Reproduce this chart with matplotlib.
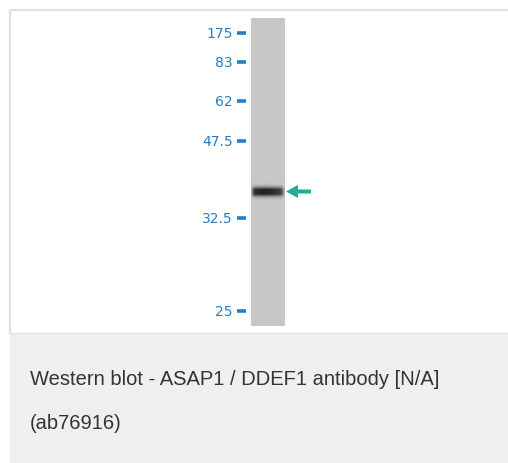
import numpy as np
import matplotlib
matplotlib.use("Agg")
import matplotlib.pyplot as plt
from matplotlib.patches import Rectangle, Polygon

# Data
marker_labels = ["175", "83", "62", "47.5", "32.5", "25"]
marker_migration = [34, 63, 102, 142, 219, 312]  # migration position (px from top)
band_migration = 192.5
band_intensity = 0.95
caption_line1 = "Western blot - ASAP1 / DDEF1 antibody [N/A]"
caption_line2 = "(ab76916)"

W, H = 508, 464
fig = plt.figure(figsize=(W / 100, H / 100), dpi=100)
ax = fig.add_axes([0, 0, 1, 1])
ax.set_xlim(0, W)
ax.set_ylim(H, 0)
ax.axis("off")

fig.patch.set_facecolor("white")
# white panel with border
ax.add_patch(Rectangle((10, 11), W + 5, 324, facecolor="white", edgecolor="#e0e0e0", lw=1.6))
# caption panel
ax.add_patch(Rectangle((10, 335), W, H - 335, facecolor="#eef0ef", edgecolor="none"))

# lane as image with band
lane_x0, lane_x1, lane_y0, lane_y1 = 251, 285, 19, 327
ys = np.arange(lane_y0, lane_y1, 0.5)
xs = np.linspace(0, 1, 68)
bg = 0.785
prof_y = np.exp(-0.5 * ((ys - band_migration) / 3.0) ** 2)
prof_y = np.clip(prof_y * 1.35, 0, 1)
prof_x = 0.8 + 0.2 * np.exp(-0.5 * ((xs - 0.4) / 0.3) ** 2)
prof_x = prof_x * (1 / (1 + np.exp(-(xs - 0.04) * 50))) * (1 / (1 + np.exp((xs - 0.95) * 35)))
dark = band_intensity * np.outer(prof_y, prof_x)
img = bg * (1 - dark) + 0.1 * dark
ax.imshow(img, cmap="gray", vmin=0, vmax=1, extent=(lane_x0, lane_x1, lane_y1, lane_y0),
          aspect="auto", interpolation="bilinear", zorder=2)

# markers
label_color = "#2a7dbd"
for lab, y in zip(marker_labels, marker_migration):
    ax.plot([237, 246], [y, y], color=label_color, lw=2.6, solid_capstyle="butt", zorder=3)
    ax.text(233, y, lab, ha="right", va="center", fontsize=10, color=label_color,
            family="DejaVu Sans", zorder=3)

# arrow (tip at lane edge, pointing left)
arrow_color = "#1fae9c"
yb = band_migration
ax.add_patch(Polygon([(286, yb), (298, yb - 6.5), (298, yb - 2), (311, yb - 2),
                      (311, yb + 2), (298, yb + 2), (298, yb + 6.5)],
                     closed=True, facecolor=arrow_color, edgecolor="none", zorder=3))

# caption
ax.text(30, 380, caption_line1, ha="left", va="center", fontsize=14.5, color="#333333",
        family="Liberation Sans")
ax.text(30, 424, caption_line2, ha="left", va="center", fontsize=14.5, color="#333333",
        family="Liberation Sans")

fig.savefig("out.png", dpi=100, facecolor="white")
